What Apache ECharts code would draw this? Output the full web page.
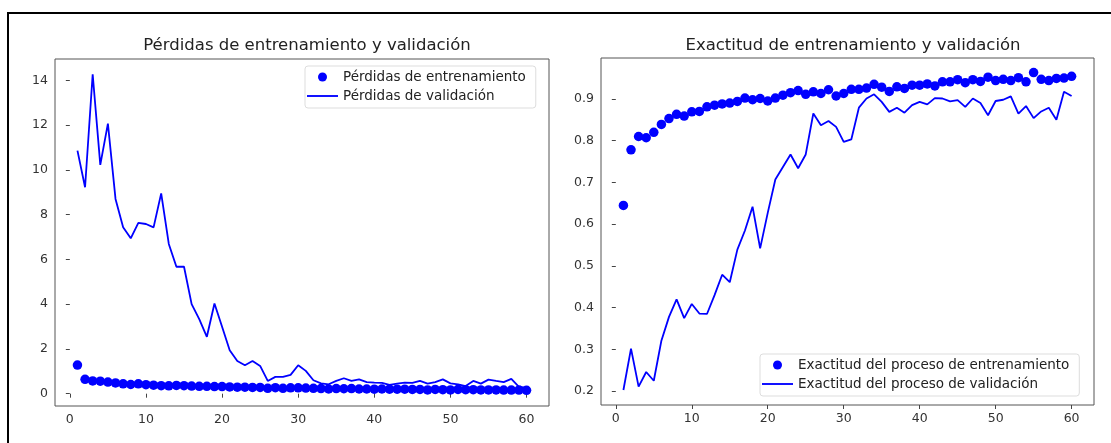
<!DOCTYPE html>
<html>
<head>
<meta charset="utf-8">
<script src="https://cdn.jsdelivr.net/npm/echarts@6/dist/echarts.min.js"></script>
<style>
  html, body { margin: 0; padding: 0; background: #fff; }
  #main { width: 1111px; height: 443px; }
</style>
</head>
<body>
<div id="main"></div>
<script>
// epocas 1..60
var epochs = [];
for (var i = 1; i <= 60; i++) epochs.push(i);

var xTicks = [0, 10, 20, 30, 40, 50, 60];
var lossTicks = [0, 2, 4, 6, 8, 10, 12, 14];
var accTicks = [0.2, 0.3, 0.4, 0.5, 0.6, 0.7, 0.8, 0.9];

var trainLoss = [1.28, 0.64, 0.57, 0.56, 0.52, 0.48, 0.44, 0.41, 0.44, 0.40,
  0.38, 0.36, 0.35, 0.37, 0.36, 0.34, 0.33, 0.33, 0.32, 0.32,
  0.30, 0.29, 0.29, 0.28, 0.28, 0.24, 0.27, 0.24, 0.26, 0.26,
  0.25, 0.24, 0.23, 0.21, 0.23, 0.22, 0.23, 0.21, 0.21, 0.20,
  0.21, 0.20, 0.20, 0.20, 0.19, 0.19, 0.17, 0.19, 0.18, 0.17,
  0.19, 0.18, 0.18, 0.17, 0.17, 0.17, 0.16, 0.16, 0.16, 0.15];

var valLoss = [10.86, 9.22, 14.27, 10.22, 12.06, 8.70, 7.43, 6.94, 7.63, 7.58,
  7.43, 8.95, 6.69, 5.67, 5.67, 4.00, 3.33, 2.54, 4.03, 2.99,
  1.94, 1.46, 1.27, 1.46, 1.24, 0.57, 0.75, 0.75, 0.84, 1.27,
  1.02, 0.60, 0.46, 0.42, 0.57, 0.69, 0.57, 0.64, 0.52, 0.49,
  0.48, 0.39, 0.45, 0.49, 0.48, 0.57, 0.45, 0.52, 0.64, 0.46,
  0.42, 0.34, 0.57, 0.45, 0.63, 0.57, 0.52, 0.66, 0.30, 0.27];

var trainAcc = [0.645, 0.778, 0.810, 0.807, 0.820, 0.839, 0.853, 0.863, 0.859, 0.869,
  0.870, 0.881, 0.885, 0.888, 0.890, 0.894, 0.902, 0.898, 0.901, 0.895,
  0.902, 0.909, 0.915, 0.920, 0.911, 0.917, 0.913, 0.922, 0.907, 0.913,
  0.923, 0.923, 0.926, 0.935, 0.928, 0.918, 0.929, 0.925, 0.933, 0.933,
  0.936, 0.931, 0.941, 0.941, 0.946, 0.939, 0.946, 0.942, 0.952, 0.944,
  0.947, 0.944, 0.951, 0.941, 0.963, 0.947, 0.944, 0.949, 0.950, 0.954];

var valAcc = [0.203, 0.302, 0.211, 0.246, 0.225, 0.321, 0.378, 0.420, 0.375, 0.409,
  0.386, 0.385, 0.430, 0.479, 0.461, 0.539, 0.585, 0.642, 0.542, 0.627,
  0.707, 0.737, 0.767, 0.734, 0.767, 0.865, 0.837, 0.847, 0.833, 0.797,
  0.803, 0.879, 0.901, 0.911, 0.893, 0.869, 0.879, 0.867, 0.885, 0.893,
  0.887, 0.902, 0.901, 0.894, 0.897, 0.881, 0.901, 0.890, 0.861, 0.895,
  0.898, 0.906, 0.865, 0.883, 0.854, 0.870, 0.879, 0.850, 0.917, 0.907];

function pairs(ys) {
  return epochs.map(function (x, i) { return [x, ys[i]]; });
}

var azul = '#0000ff';
var fuente = 'DejaVu Sans';
var lineIcon = 'path://M0,0 L30,0 L30,1.8 L0,1.8 Z';

function xAxis(idx) {
  return {
    type: 'value', gridIndex: idx, min: -1.95, max: 62.95,
    splitLine: { show: false },
    axisLine: { show: false },
    axisTick: { show: true, length: 4, lineStyle: { color: '#444' }, customValues: xTicks },
    axisLabel: { color: '#333', fontSize: 12.5, fontFamily: fuente, margin: 7, customValues: xTicks }
  };
}

function yAxis(idx, min, max, ticks, fmt) {
  return {
    type: 'value', gridIndex: idx, min: min, max: max,
    splitLine: { show: false },
    axisLine: { show: false },
    axisTick: { show: true, length: 4, lineStyle: { color: '#444' }, customValues: ticks },
    axisLabel: { color: '#333', fontSize: 12.5, fontFamily: fuente, margin: 7, customValues: ticks, formatter: fmt }
  };
}

function leyenda(left, top, names) {
  return {
    orient: 'vertical', left: left, top: top,
    itemWidth: 31, itemHeight: 9, itemGap: 3, itemTextGap: 15,
    padding: [3, 10, 4, 2],
    borderColor: '#ddd', borderWidth: 1, borderRadius: 3,
    backgroundColor: 'rgba(255,255,255,0.8)',
    textStyle: { fontFamily: fuente, fontSize: 13.5, lineHeight: 16, color: '#222' },
    data: [
      { name: names[0], icon: 'circle' },
      { name: names[1], icon: lineIcon }
    ]
  };
}

var chart = echarts.init(document.getElementById('main'));
chart.setOption({
  backgroundColor: '#fff',
  animation: false,
  title: [{
    text: 'Pérdidas de entrenamiento y validación',
    left: 302, top: 32, textAlign: 'center',
    textStyle: { fontFamily: fuente, fontSize: 16.5, fontWeight: 'normal', color: '#222' }
  }, {
    text: 'Exactitud de entrenamiento y validación',
    left: 848, top: 32, textAlign: 'center',
    textStyle: { fontFamily: fuente, fontSize: 16.5, fontWeight: 'normal', color: '#222' }
  }],
  legend: [
    leyenda(305, 66, ['Pérdidas de entrenamiento', 'Pérdidas de validación']),
    leyenda(760, 354, ['Exactitud del proceso de entrenamiento', 'Exactitud del proceso de validación'])
  ],
  grid: [
    { left: 55, top: 59, width: 494, height: 347, show: true, borderColor: '#555', borderWidth: 1, backgroundColor: '#fff' },
    { left: 601, top: 58, width: 493, height: 347, show: true, borderColor: '#555', borderWidth: 1, backgroundColor: '#fff' }
  ],
  xAxis: [xAxis(0), xAxis(1)],
  yAxis: [
    yAxis(0, -0.55, 14.95, lossTicks),
    yAxis(1, 0.167, 0.998, accTicks, function (v) { return v.toFixed(1); })
  ],
  series: [{
    name: 'Pérdidas de entrenamiento', type: 'scatter',
    xAxisIndex: 0, yAxisIndex: 0,
    symbolSize: 9.5, itemStyle: { color: azul, opacity: 1 },
    data: pairs(trainLoss), z: 2
  }, {
    name: 'Pérdidas de validación', type: 'line',
    xAxisIndex: 0, yAxisIndex: 0,
    symbol: 'none', lineStyle: { color: azul, width: 1.8 }, itemStyle: { color: azul },
    data: pairs(valLoss), z: 3
  }, {
    name: 'Exactitud del proceso de entrenamiento', type: 'scatter',
    xAxisIndex: 1, yAxisIndex: 1,
    symbolSize: 9.5, itemStyle: { color: azul, opacity: 1 },
    data: pairs(trainAcc), z: 2
  }, {
    name: 'Exactitud del proceso de validación', type: 'line',
    xAxisIndex: 1, yAxisIndex: 1,
    symbol: 'none', lineStyle: { color: azul, width: 1.8 }, itemStyle: { color: azul },
    data: pairs(valAcc), z: 3
  }],
  graphic: [{
    type: 'rect', silent: true, z: 100,
    shape: { x: 8, y: 13, width: 1300, height: 600 },
    style: { fill: 'none', stroke: '#000', lineWidth: 2 }
  }]
});
</script>
</body>
</html>
